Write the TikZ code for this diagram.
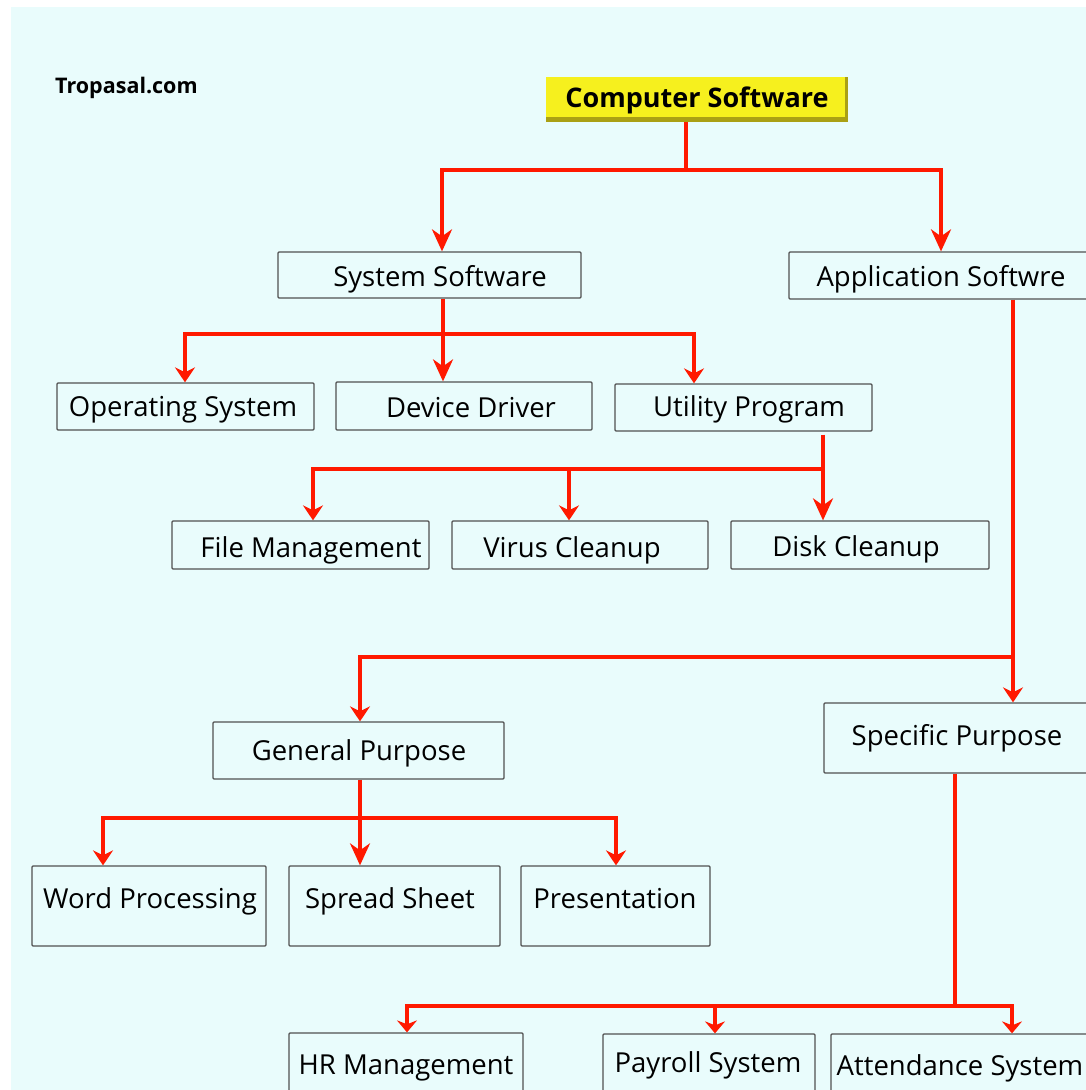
\documentclass[tikz,border=0pt]{standalone}
\usepackage{fontspec}
\setmainfont{Open Sans}
\usetikzlibrary{arrows.meta}

\definecolor{pagebg}{RGB}{233,252,252}
\definecolor{wirered}{RGB}{255,25,0}
\definecolor{boxline}{RGB}{80,80,80}
\definecolor{titlefill}{RGB}{246,240,30}
\definecolor{titleshade}{RGB}{170,160,20}

\tikzset{
  chart/.style={draw=boxline, line width=1.3pt, rounded corners=1pt, inner sep=0pt},
  lbl/.style={anchor=base, inner sep=0pt, font=\fontsize{27.5}{32}\selectfont},
  wire/.style={draw=wirered, line width=3.4pt, line join=miter},
  tipbig/.style={-{Stealth[length=22pt,width=20pt,inset=7pt]}},
  tipsmall/.style={-{Stealth[length=15pt,width=20pt,inset=5pt]}},
  tiplow/.style={-{Stealth[length=12pt,width=20pt,inset=4pt]}},
}

% box: name, x1, y1, x2, y2, text x, text baseline, text
\newcommand\chartbox[8]{%
  \node[chart, minimum width={#4-#2}, minimum height={#5-#3}] (#1)
    at ({(#2+#4)/2},{(#3+#5)/2}) {};
  \node[lbl] (#1-t) at (#6,#7) {#8};}

\begin{document}
\begin{tikzpicture}[x=1pt,y=-1pt]
\clip (0,0) rectangle (1086,1090);
\fill[white] (0,0) rectangle (1086,1090);
\fill[pagebg] (11,7) rectangle (1086,1090);

% site name
\node[anchor=base west, inner sep=0pt, font=\bfseries\fontsize{21.5}{25}\selectfont] (site) at (55,93) {Tropasal.com};

% root
\node[fill=titlefill, minimum width=302, minimum height=45, inner sep=0pt] (cs) at (697,99.5) {};
\fill[titleshade] (cs.south west) rectangle ([yshift=5pt]cs.south east);
\fill[titleshade] ([xshift=-3pt]cs.south east) rectangle (cs.north east);
\node[anchor=base, inner sep=0pt, font=\bfseries\fontsize{27}{32}\selectfont] (cs-t) at (697,107) {Computer Software};

% first level
\chartbox{sys}{278}{252}{581}{298}{440}{286}{System Software}
\chartbox{app}{789}{252}{1095}{299}{941}{286}{Application Softwre}

% system software branch
\chartbox{os}{57}{383}{314}{430}{183}{416}{Operating System}
\chartbox{dd}{336}{382}{592}{430}{471}{417}{Device Driver}
\chartbox{up}{615}{384}{872}{431}{749}{416}{Utility Program}

% utilities
\chartbox{fm}{172}{521}{429}{569}{311}{557}{File Management}
\chartbox{vc}{452}{521}{708}{569}{572}{557}{Virus Cleanup}
\chartbox{dc}{731}{521}{989}{569}{856}{556}{Disk Cleanup}

% application software branch
\chartbox{gp}{213}{722}{504}{779}{359}{760}{General Purpose}
\chartbox{sp}{824}{703}{1095}{773}{957}{745}{Specific Purpose}

\chartbox{wp}{32}{866}{266}{946}{150}{908}{Word Processing}
\chartbox{ss}{289}{866}{500}{946}{390}{908}{Spread Sheet}
\chartbox{pr}{521}{866}{710}{946}{615}{908}{Presentation}

\chartbox{hr}{289}{1033}{523}{1100}{406}{1074}{HR Management}
\chartbox{pay}{603}{1034}{815}{1100}{708}{1072}{Payroll System}
\chartbox{att}{831}{1034}{1100}{1100}{960}{1075}{Attendance System}

% junction points
\coordinate (j0) at (686,170);  \coordinate (j0l) at (442,170); \coordinate (j0r) at (941,170);
\coordinate (j1) at (443,334);  \coordinate (j1l) at (185,334); \coordinate (j1r) at (694,334);
\coordinate (j2) at (823,469);  \coordinate (j2l) at (313,469); \coordinate (j2m) at (569,469);
\coordinate (j3) at (1013,657); \coordinate (j3l) at (360,657);
\coordinate (j4) at (360,818);  \coordinate (j4l) at (103,818); \coordinate (j4r) at (616,818);
\coordinate (j5) at (955,1006); \coordinate (j5l) at (407,1006); \coordinate (j5m) at (715,1006); \coordinate (j5r) at (1012,1006);

% root to first level
\draw[wire] (cs.south -| j0) -- (j0);
\draw[wire,tipbig] (j0) -| (sys.north -| j0l);
\draw[wire,tipbig] (j0) -| (app.north -| j0r);

% system software children
\draw[wire] (sys.south -| j1) -- (j1);
\draw[wire,tipsmall] (j1) -| (os.north -| j1l);
\draw[wire,tipbig] (j1) -- (dd.north -| j1);
\draw[wire,tipsmall] (j1) -| (up.north -| j1r);

% utility program children
\draw[wire] ([yshift=-3pt]up.south -| j2) -- (j2);
\draw[wire,tipbig] (j2) -- (dc.north -| j2);
\draw[wire,tipsmall] (j2) -| (fm.north -| j2l);
\draw[wire,tipsmall] (j2m) -- (vc.north -| j2m);

% application software children
\draw[wire] (app.south -| j3) -- (j3);
\draw[wire,tipsmall] (j3) -- (sp.north -| j3);
\draw[wire,tipsmall] (j3) -| (gp.north -| j3l);

% general purpose children
\draw[wire] (gp.south -| j4) -- (j4);
\draw[wire,tipbig] (j4) -- (ss.north -| j4);
\draw[wire,tipsmall] (j4) -| (wp.north -| j4l);
\draw[wire,tipsmall] (j4) -| (pr.north -| j4r);

% specific purpose children
\draw[wire] (sp.south -| j5) -- (j5);
\draw[wire,tiplow] (j5) -| (hr.north -| j5l);
\draw[wire,tiplow] (j5m) -- (pay.north -| j5m);
\draw[wire,tiplow] (j5) -| (att.north -| j5r);
\end{tikzpicture}
\end{document}
